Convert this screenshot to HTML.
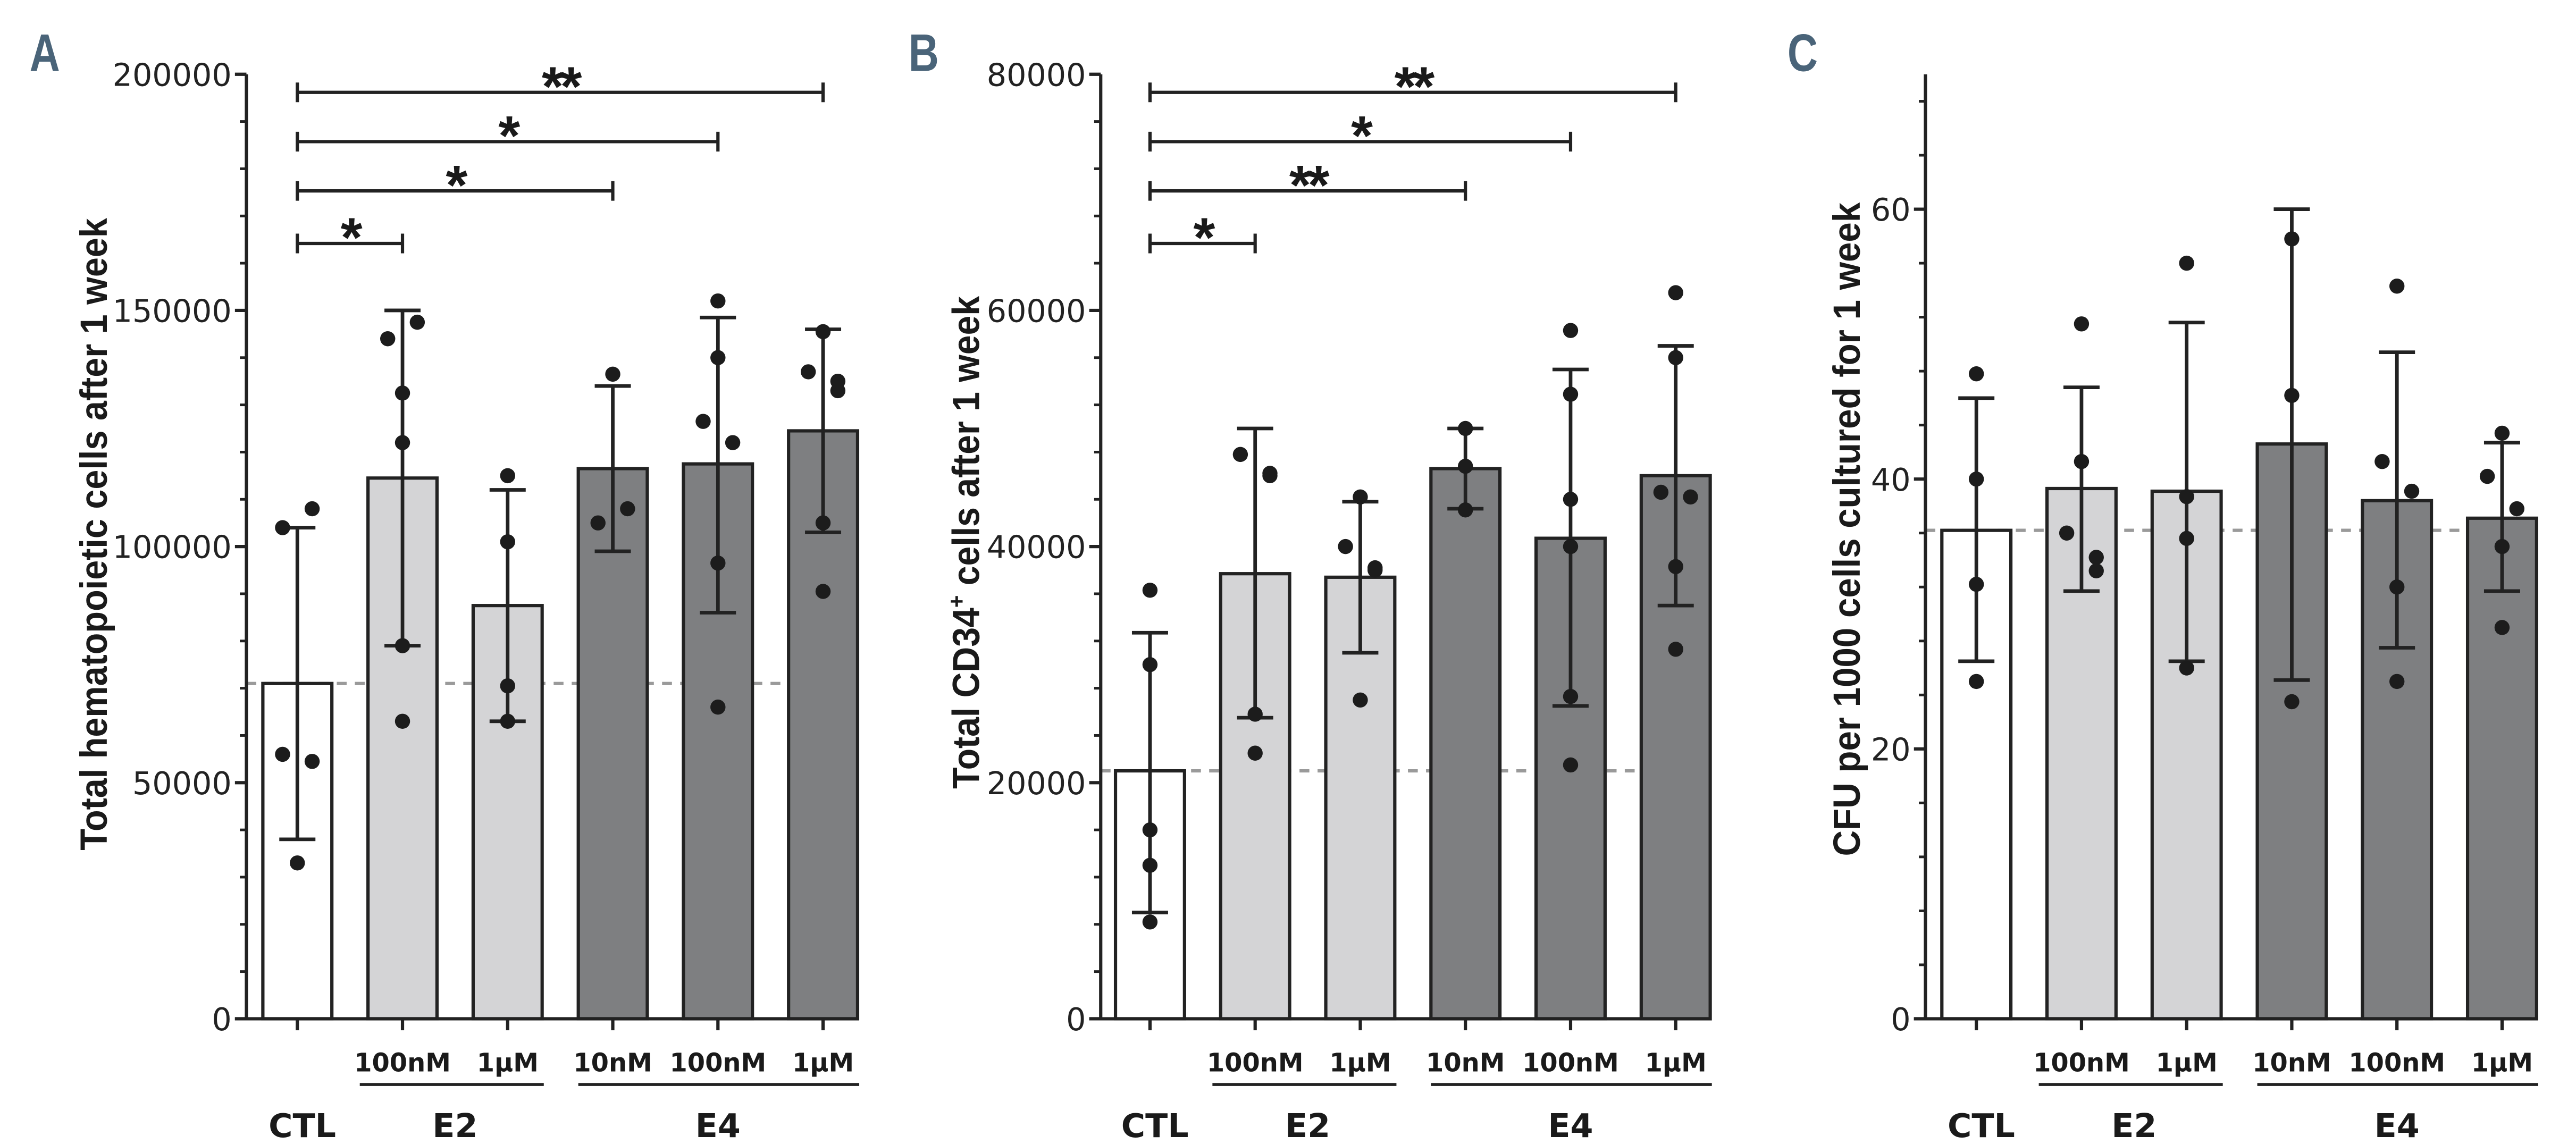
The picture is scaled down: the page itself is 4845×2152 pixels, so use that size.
<!DOCTYPE html>
<html><head><meta charset="utf-8"><style>
html,body{margin:0;padding:0;background:#fff;}
svg{display:block;}
</style></head><body>
<svg id="fig" width="4845" height="2152" viewBox="0 0 1568 696" xmlns="http://www.w3.org/2000/svg" font-family="'DejaVu Sans', 'Liberation Sans', sans-serif"></svg>
<script>
// ---------- data ----------
const categories = ["CTL","E2 100nM","E2 1µM","E4 10nM","E4 100nM","E4 1µM"];
const concLabels = ["", "100nM", "1\u00b5M", "10nM", "100nM", "1\u00b5M"];
const fills = ["#ffffff","#d4d4d6","#d4d4d6","#7e7f81","#7e7f81","#7e7f81"];

const aMeans = [71000,114500,87500,116500,117500,124500];
const aErrLo = [38000,79000,63000,99000,86000,103000];
const aErrHi = [104000,150000,112000,134000,148500,146000];
const aPoints = [[104000,108000,56000,54500,33000],[144000,147500,132500,122000,79000,63000],[115000,101000,70500,63000],[136500,105000,108000],[152000,140000,126500,122000,96500,66000],[145500,137000,133000,135000,105000,90500]];
const aTicks = [0,50000,100000,150000,200000];
const aSig = [{to:1,label:"*"},{to:3,label:"*"},{to:4,label:"*"},{to:5,label:"**"}];

const bMeans = [21000,37700,37400,46600,40700,46000];
const bErrLo = [9000,25500,31000,43200,26500,35000];
const bErrHi = [32700,50000,43800,50000,55000,57000];
const bPoints = [[36300,30000,16000,13000,8200],[47800,46000,46200,25800,22500],[44200,40000,38200,38000,27000],[50000,46800,43100],[58300,52900,44000,40000,27300,21500],[61500,56000,44600,44200,38300,31300]];
const bTicks = [0,20000,40000,60000,80000];
const bSig = [{to:1,label:"*"},{to:3,label:"**"},{to:4,label:"*"},{to:5,label:"**"}];

const cMeans = [36.2,39.3,39.1,42.6,38.4,37.1];
const cErrLo = [26.5,31.7,26.5,25.1,27.5,31.7];
const cErrHi = [46,46.8,51.6,60,49.4,42.7];
const cPoints = [[47.8,40,32.2,25],[51.5,41.3,36,34.2,33.2],[56,38.7,35.6,26],[57.8,46.2,23.5],[54.3,41.3,39.1,32,25],[43.4,40.2,37.8,35,29]];
const cTicks = [0,20,40,60];
const cSig = [];

// ---------- drawing ----------
const svg = document.getElementById('fig');
const NS = "http://www.w3.org/2000/svg";
function mk(tag, attrs, parent){
  const e = document.createElementNS(NS, tag);
  for (const k in attrs) e.setAttribute(k, attrs[k]);
  (parent||svg).appendChild(e);
  return e;
}
function drawPanel(cfg){
  const g = mk('g', {});
  
  
  const y0 = 620, yTop = 45;
  const yS = v => y0 - (v / cfg.max) * (y0 - yTop);
  const xS = i => cfg.x0 + i * cfg.step;
  const bw = 42;
  // letter
  const L = mk('text', {x:cfg.letterX, y:43, 'font-size':32, 'font-weight':'bold', fill:'#4a6479', 'font-family':"'Liberation Sans', sans-serif", transform:`translate(${cfg.letterX},0) scale(0.8,1) translate(${-cfg.letterX},0)`}, g);
  L.textContent = cfg.letter;
  
  
  // title
  const tt = mk('text', {x:0, y:0, 'font-size':23, 'font-weight':'bold', fill:'#1a1a1a', 'text-anchor':'middle', 'font-family':"'Liberation Sans', sans-serif", textLength:cfg.titleLen, lengthAdjust:'spacingAndGlyphs', transform:`translate(${cfg.titleX},${cfg.titleY}) rotate(-90)`}, g);
  if (cfg.sup){
    tt.appendChild(document.createTextNode(cfg.title[0]));
    const s = mk('tspan', {dy:-9, 'font-size':14}, tt); s.textContent = cfg.sup;
    const r = mk('tspan', {dy:9}, tt); r.textContent = cfg.title[1];
  } else tt.textContent = cfg.title;
  
  
  // dashed reference line
  const dl = mk('line', {x1:cfg.axisX, x2:cfg.axisEnd, y1:yS(cfg.means[0]), y2:yS(cfg.means[0]), stroke:'#9a9a9a', 'stroke-width':2, 'stroke-dasharray':'6,5'}, g);
  
  
  // bars
  cfg.means.forEach((m,i)=>{
    const r = mk('rect', {x:xS(i)-bw/2, y:yS(m), width:bw, height:y0-yS(m), fill:fills[i], stroke:'#222', 'stroke-width':2}, g);
    
    
  });
  // error bars
  cfg.means.forEach((m,i)=>{
    const x = xS(i), lo = yS(cfg.lo[i]), hi = yS(cfg.hi[i]);
    const eg = mk('g', {stroke:'#222', 'stroke-width':2.2}, g);
    
    
    mk('line', {x1:x, x2:x, y1:lo, y2:hi}, eg);
    mk('line', {x1:x-11, x2:x+11, y1:lo, y2:lo}, eg);
    mk('line', {x1:x-11, x2:x+11, y1:hi, y2:hi}, eg);
  });
  // points
  const range = cfg.max;
  cfg.pts.forEach((arr,i)=>{
    arr.forEach((v,j)=>{
      let off = 0;
      const close = arr.filter((w,k)=>k<j && Math.abs(w-v) < range*0.035).length;
      const later = arr.filter((w,k)=>k>j && Math.abs(w-v) < range*0.035).length;
      if (close>0) off = 9; else if (later>0) off = -9;
      const c = mk('circle', {cx:xS(i)+off, cy:yS(v), r:4.6, fill:'#1c1c1c'}, g);
      
      
    });
  });
  // axes
  const ax = mk('g', {stroke:'#222', 'stroke-width':2}, g);
  
  
  mk('line', {x1:cfg.axisX, x2:cfg.axisX, y1:yTop, y2:y0+1}, ax);
  mk('line', {x1:cfg.axisX-7, x2:cfg.axisEnd, y1:y0, y2:y0}, ax);
  for (let v=0; v<=cfg.max+1e-9; v+=cfg.minor){
    const major = cfg.ticks.some(t=>Math.abs(t-v)<1e-6);
    mk('line', {x1:cfg.axisX-(major?7:4), x2:cfg.axisX, y1:yS(v), y2:yS(v), 'stroke-width':major?2:1.6}, ax);
  }
  cfg.ticks.forEach(t=>{
    const tx = mk('text', {x:cfg.axisX-9, y:yS(t)+7, 'font-size':19, 'text-anchor':'end', fill:'#222', stroke:'none'}, g);
    tx.textContent = String(t);
    
    
  });
  cfg.means.forEach((m,i)=>{
    mk('line', {x1:xS(i), x2:xS(i), y1:y0, y2:y0+7}, ax);
  });
  // category labels
  concLabels.forEach((c,i)=>{
    if(!c) return;
    const t = mk('text', {x:xS(i), y:652, 'font-size':15.5, 'font-weight':'bold', 'text-anchor':'middle', fill:'#1a1a1a'}, g);
    t.textContent = c;
    
    
  });
  const gl = mk('g', {stroke:'#222', 'stroke-width':1.8}, g);
  
  
  mk('line', {x1:xS(1)-26, x2:xS(2)+22, y1:660, y2:660}, gl);
  mk('line', {x1:xS(3)-21, x2:xS(5)+22, y1:660, y2:660}, gl);
  [["CTL",xS(0)+3],["E2",(xS(1)+xS(2))/2],["E4",xS(4)]].forEach(([s,x])=>{
    const t = mk('text', {x:x, y:692, 'font-size':20, 'font-weight':'bold', 'text-anchor':'middle', fill:'#1a1a1a'}, g);
    t.textContent = s;
    
    
  });
  // significance brackets
  const sigY = [148,116,86,56];
  cfg.sig.forEach((s,k)=>{
    const y = sigY[k];
    const sg = mk('g', {}, g);
    
    
    const x1 = xS(0), x2 = xS(s.to);
    mk('line', {x1:x1, x2:x2, y1:y, y2:y, stroke:'#222', 'stroke-width':2}, sg);
    mk('line', {x1:x1, x2:x1, y1:y-6, y2:y+6, stroke:'#222', 'stroke-width':2}, sg);
    mk('line', {x1:x2, x2:x2, y1:y-6, y2:y+6, stroke:'#222', 'stroke-width':2}, sg);
    const t = mk('text', {x:(x1+x2)/2, y:y+8, 'font-size':34, 'font-weight':'bold', 'text-anchor':'middle', fill:'#1a1a1a', 'font-family':"'Liberation Sans', sans-serif", 'letter-spacing':'-2'}, sg);
    t.textContent = s.label;
  });
}
drawPanel({letter:'A', letterX:18, title:'Total hematopoietic cells after 1 week', titleX:65, titleY:325, titleLen:385,
  axisX:150, axisEnd:522, x0:181, step:64, max:200000, minor:10000, ticks:aTicks,
  means:aMeans, lo:aErrLo, hi:aErrHi, pts:aPoints, sig:aSig});
drawPanel({letter:'B', letterX:553, title:['Total CD34',' cells after 1 week'], sup:'+', titleX:596, titleY:330, titleLen:300,
  axisX:670, axisEnd:1041, x0:700, step:64, max:80000, minor:4000, ticks:bTicks,
  means:bMeans, lo:bErrLo, hi:bErrHi, pts:bPoints, sig:bSig});
drawPanel({letter:'C', letterX:1088, title:'CFU per 1000 cells cultured for 1 week', titleX:1132, titleY:322, titleLen:398,
  axisX:1172, axisEnd:1541, x0:1203, step:64, max:70, minor:4, ticks:cTicks,
  means:cMeans, lo:cErrLo, hi:cErrHi, pts:cPoints, sig:cSig});
</script>
</body></html>
